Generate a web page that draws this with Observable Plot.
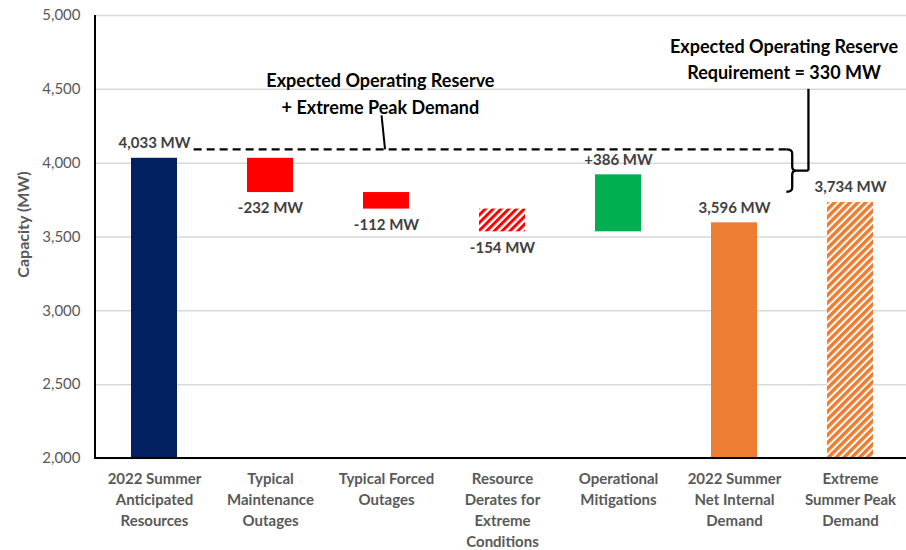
<!DOCTYPE html>
<html><head><meta charset="utf-8">
<script src="https://cdn.jsdelivr.net/npm/d3@7"></script>
<script src="https://cdn.jsdelivr.net/npm/@observablehq/plot@0.6"></script>
<style>body{margin:0;background:#fff;}</style>
</head><body><div id="chart"></div>
<script>
// ---- data ----
const categories = [
  "2022 Summer\nAnticipated\nResources",
  "Typical\nMaintenance\nOutages",
  "Typical Forced\nOutages",
  "Resource\nDerates for\nExtreme\nConditions",
  "Operational\nMitigations",
  "2022 Summer\nNet Internal\nDemand",
  "Extreme\nSummer Peak\nDemand"
];
const values = [4033, -232, -112, -154, 386, 3596, 3734];
const kinds = ["resources", "outage", "outage", "derate", "mitigation", "demand", "extreme"];
const valueLabels = ["4,033 MW", "-232 MW", "-112 MW", "-154 MW", "+386 MW", "3,596 MW", "3,734 MW"];
const yTicks = [2000, 2500, 3000, 3500, 4000, 4500, 5000];
const reserveLevel = 4090;   // dashed line: operating reserve + extreme peak demand
const reserveLow = 3803;     // bottom of the brace
const leftNote = "Expected Operating Reserve\n+ Extreme Peak Demand";
const rightNote = "Expected Operating Reserve\nRequirement = 330 MW";
const yLabel = "Capacity (MW)";

// ---- build waterfall rows ----
let running = 0;
const rows = categories.map((cat, i) => {
  const v = values[i];
  let y1, y2;
  if (kinds[i] === "resources" || kinds[i] === "demand" || kinds[i] === "extreme") {
    y1 = 0; y2 = v; running = v;
  } else {
    y1 = running; y2 = running + v; running = y2;
  }
  return {cat, kind: kinds[i], y1, y2, lo: Math.min(y1, y2), hi: Math.max(y1, y2), label: valueLabels[i], below: v < 0};
});

const FONT = "Lato, 'Open Sans', sans-serif";
const fillFor = {
  resources: "#002060", outage: "#FF0000", derate: "url(#redHatch)",
  mitigation: "#00B050", demand: "#ED7D31", extreme: "url(#orangeHatch)"
};

function defsMark() {
  const g = d3.create("svg:g");
  const defs = g.append("defs");
  const mk = (id, color, w, period) => {
    const p = defs.append("pattern").attr("id", id).attr("patternUnits", "userSpaceOnUse")
      .attr("width", period).attr("height", period).attr("patternTransform", "rotate(45)");
    p.append("rect").attr("width", period).attr("height", period).attr("fill", "#fff");
    p.append("rect").attr("width", w).attr("height", period).attr("fill", color);
  };
  mk("redHatch", "#FF0000", 3, 5.5);
  mk("orangeHatch", "#ED7D31", 3.5, 5.5);
  return g.node();
}

function annotations(index, scales, values, dims) {
  const x = scales.x, y = scales.y;
  const x0 = x(categories[0]);
  const step = x(categories[1]) - x0;
  const px = t => x0 + t * step;
  const g = d3.create("svg:g").attr("font-family", FONT);
  const yr = y(reserveLevel), yl = y(reserveLow), ym = (yr + yl) / 2;
  // dashed line
  g.append("line").attr("x1", px(0.54)).attr("x2", px(5.65)).attr("y1", yr).attr("y2", yr)
    .attr("stroke", "#000").attr("stroke-width", 2.2).attr("stroke-dasharray", "8,5");
  // brace
  const bx = px(5.70), tip = px(5.84), r = 4;
  g.append("path").attr("fill", "none").attr("stroke", "#000").attr("stroke-width", 2.3)
    .attr("d", `M${px(5.65)},${yr} Q${bx},${yr} ${bx},${yr + r} L${bx},${ym - r} Q${bx},${ym} ${bx + r},${ym} L${tip},${ym}`
      + ` M${bx + r},${ym} Q${bx},${ym} ${bx},${ym + r} L${bx},${yl - r} Q${bx},${yl} ${px(5.65)},${yl}`);
  // leader up to right note
  g.append("line").attr("x1", tip).attr("x2", tip).attr("y1", ym).attr("y2", y(4500))
    .attr("stroke", "#000").attr("stroke-width", 2.3);
  // leader up to left note
  g.append("line").attr("x1", px(2.19)).attr("x2", px(2.16)).attr("y1", yr).attr("y2", y(4320))
    .attr("stroke", "#000").attr("stroke-width", 2);
  // notes
  const note = (txt, cx, cyTop) => {
    const t = g.append("text").attr("text-anchor", "middle").attr("font-weight", "bold")
      .attr("font-size", 18).attr("fill", "#000");
    txt.split("\n").forEach((s, i) => t.append("tspan").attr("x", cx).attr("y", cyTop + i * 26.5).attr("dy", "0.35em").text(s));
  };
  note(leftNote, px(2.15), y(4555));
  note(rightNote, px(5.63), y(4786));
  // y label
  g.append("text").attr("transform", `translate(${dims.marginLeft - 72},${(dims.marginTop + dims.height - dims.marginBottom) / 2 - 12}) rotate(-90)`)
    .attr("text-anchor", "middle").attr("dy", "0.35em").attr("font-weight", "bold").attr("font-size", 16)
    .attr("fill", "#595959").text(yLabel);
  // axis lines
  g.append("line").attr("x1", dims.marginLeft).attr("x2", dims.marginLeft)
    .attr("y1", y(5000)).attr("y2", y(2000) + 1).attr("stroke", "#000").attr("stroke-width", 2);
  g.append("line").attr("x1", dims.marginLeft - 1).attr("x2", dims.width)
    .attr("y1", y(2000)).attr("y2", y(2000)).attr("stroke", "#000").attr("stroke-width", 2);
  return g.node();
}

const plot = Plot.plot({
  width: 906,
  height: 550,
  marginLeft: 95,
  marginRight: 0,
  marginTop: 15,
  marginBottom: 92,
  style: {fontFamily: FONT, background: "#fff"},
  x: {domain: categories, range: [95, 909], paddingInner: 0.6, paddingOuter: 0.3, axis: null},
  y: {domain: [2000, 5000], axis: null},
  marks: [
    defsMark,
    Plot.gridY(yTicks, {stroke: "#d9d9d9", strokeOpacity: 1, strokeWidth: 1.5}),
    Plot.axisY(yTicks, {tickSize: 0, tickPadding: 15, tickFormat: d3.format(","), fontSize: 15, fill: "#595959", label: null}),
    Plot.axisX(categories, {tickSize: 0, tickPadding: 11, fontSize: 15, fontWeight: "bold", lineHeight: 1.4, fill: "#595959", label: null}),
    ...Object.keys(fillFor).map(k => Plot.barY(rows, {filter: d => d.kind === k, x: "cat", y1: "y1", y2: "y2", fill: fillFor[k], clip: true})),
    Plot.text(rows, {filter: d => !d.below, x: "cat", y: "hi", text: "label", dy: -15, fontSize: 15, fontWeight: "bold", fill: "#404040"}),
    Plot.text(rows, {filter: d => d.below, x: "cat", y: "lo", text: "label", dy: 16, fontSize: 15, fontWeight: "bold", fill: "#404040"}),
    annotations
  ]
});
document.getElementById("chart").appendChild(plot);
</script>
</body></html>
